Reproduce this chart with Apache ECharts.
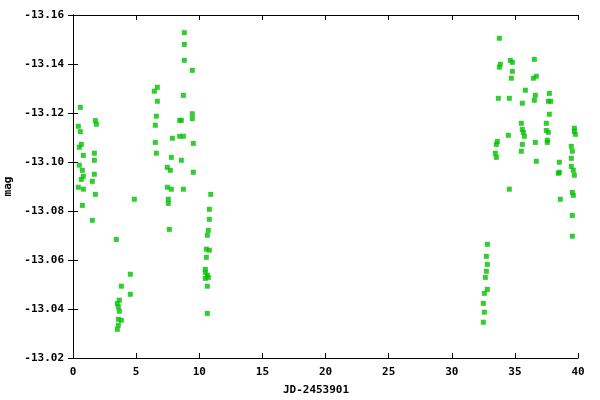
<!DOCTYPE html>
<html>
<head>
<meta charset="utf-8">
<script src="https://cdn.jsdelivr.net/npm/echarts@6/dist/echarts.min.js"></script>
<style>html,body{margin:0;padding:0;background:#fff}#c{width:600px;height:400px}</style>
</head>
<body>
<div id="c"></div>
<script>
// JD - 2453901
const jdValues = [
  0.58,1.77,1.85,0.42,0.58,0.66,0.50,0.82,1.69,1.69,0.50,0.74,1.69,0.82,0.66,1.53,0.42,0.82,1.77,0.74,1.53,
  4.86,3.43,4.54,3.83,4.54,3.67,3.51,3.59,3.67,3.59,3.83,3.59,3.51,
  8.82,8.82,8.82,9.45,6.68,6.44,8.74,6.68,9.45,6.60,9.45,8.45,8.58,6.52,8.45,8.74,7.87,6.52,9.53,6.60,7.79,8.58,7.47,7.71,9.53,7.47,7.79,8.74,7.55,7.55,7.63,
  10.91,10.80,10.80,10.72,10.64,10.56,10.80,10.56,10.48,10.48,10.64,10.72,10.48,10.64,10.64,
  33.77,34.64,34.80,33.85,33.77,34.80,34.72,33.69,34.56,34.48,33.61,33.53,33.45,33.53,34.56,
  32.82,32.74,32.82,32.74,32.66,32.82,32.58,32.50,32.58,32.50,
  36.54,36.70,36.46,35.83,37.73,36.62,36.54,37.65,37.84,35.59,37.73,35.51,37.49,39.71,35.59,37.49,39.71,35.67,37.65,39.79,
  35.75,37.57,36.62,37.57,35.59,39.47,35.51,39.55,39.47,36.70,38.52,39.47,39.63,38.52,38.44,39.71,39.55,39.63,38.60,39.55,39.55
];
const magValues = [
  -13.1223,-13.1169,-13.1154,-13.1146,-13.1124,-13.1072,-13.1060,-13.1027,-13.1036,-13.1007,-13.0987,-13.0966,-13.0950,-13.0942,-13.0929,-13.0921,-13.0897,-13.0889,-13.0868,-13.0823,-13.0762,
  -13.0848,-13.0684,-13.0542,-13.0493,-13.0460,-13.0436,-13.0423,-13.0409,-13.0391,-13.0358,-13.0354,-13.0334,-13.0317,
  -13.1528,-13.1480,-13.1415,-13.1374,-13.1305,-13.1289,-13.1272,-13.1248,-13.1197,-13.1187,-13.1177,-13.1170,-13.1170,-13.1150,-13.1105,-13.1105,-13.1097,-13.1080,-13.1076,-13.1036,-13.1019,-13.1007,-13.0978,-13.0966,-13.0958,-13.0897,-13.0889,-13.0889,-13.0848,-13.0831,-13.0725,
  -13.0868,-13.0807,-13.0766,-13.0721,-13.0701,-13.0644,-13.0640,-13.0611,-13.0562,-13.0550,-13.0538,-13.0529,-13.0525,-13.0493,-13.0382,
  -13.1505,-13.1415,-13.1407,-13.1399,-13.1387,-13.1370,-13.1342,-13.1260,-13.1260,-13.1109,-13.1084,-13.1072,-13.1036,-13.1019,-13.0889,
  -13.0664,-13.0615,-13.0582,-13.0554,-13.0529,-13.0480,-13.0464,-13.0423,-13.0387,-13.0346,
  -13.1419,-13.1350,-13.1342,-13.1293,-13.1280,-13.1272,-13.1252,-13.1248,-13.1248,-13.1240,-13.1195,-13.1158,-13.1158,-13.1138,-13.1133,-13.1129,-13.1125,-13.1121,-13.1121,-13.1113,
  -13.1105,-13.1089,-13.1080,-13.1080,-13.1072,-13.1064,-13.1044,-13.1044,-13.1015,-13.1003,-13.0999,-13.0982,-13.0966,-13.0958,-13.0954,-13.0946,-13.0876,-13.0864,-13.0848,-13.0782,-13.0697
];
const xName = 'JD-2453901';
const yName = 'mag';

const points = jdValues.map((x, i) => [x, magValues[i]]);
const font = { fontFamily: 'DejaVu Sans Mono', fontWeight: 'bold', fontSize: 11, color: '#000' };
const line = { show: true, lineStyle: { color: '#000', width: 1 } };
const tick = { show: true, inside: true, length: 5, lineStyle: { color: '#000', width: 1 } };

const chart = echarts.init(document.getElementById('c'), null, { renderer: 'canvas' });
chart.setOption({
  animation: false,
  backgroundColor: '#fff',
  grid: { left: 73, right: 22, top: 15, bottom: 42, containLabel: false, outerBoundsMode: 'none' },
  xAxis: [
    {
      type: 'value', min: 0, max: 40, interval: 5, position: 'bottom',
      name: xName, nameLocation: 'middle', nameGap: 27,
      nameTextStyle: Object.assign({}, font, { padding: [0, 19, 0, 0] }),
      axisLine: line, axisTick: tick, splitLine: { show: false },
      axisLabel: Object.assign({}, font, { margin: 9 })
    },
    {
      type: 'value', min: 0, max: 40, interval: 5, position: 'top',
      axisLine: line, axisTick: tick, splitLine: { show: false }, axisLabel: { show: false }
    }
  ],
  yAxis: [
    {
      type: 'value', min: -13.16, max: -13.02, interval: 0.02, inverse: true, position: 'left',
      name: yName, nameLocation: 'middle', nameGap: 58, nameRotate: 90,
      nameTextStyle: font,
      axisLine: line, axisTick: tick, splitLine: { show: false },
      axisLabel: Object.assign({}, font, { margin: 9, formatter: v => v.toFixed(2) })
    },
    {
      type: 'value', min: -13.16, max: -13.02, interval: 0.02, inverse: true, position: 'right',
      axisLine: line, axisTick: tick, splitLine: { show: false }, axisLabel: { show: false }
    }
  ],
  series: [{
    type: 'scatter',
    xAxisIndex: 0, yAxisIndex: 0,
    symbol: 'rect', symbolSize: 5,
    itemStyle: { color: '#00c000' },
    data: points
  }]
});
</script>
</body>
</html>
